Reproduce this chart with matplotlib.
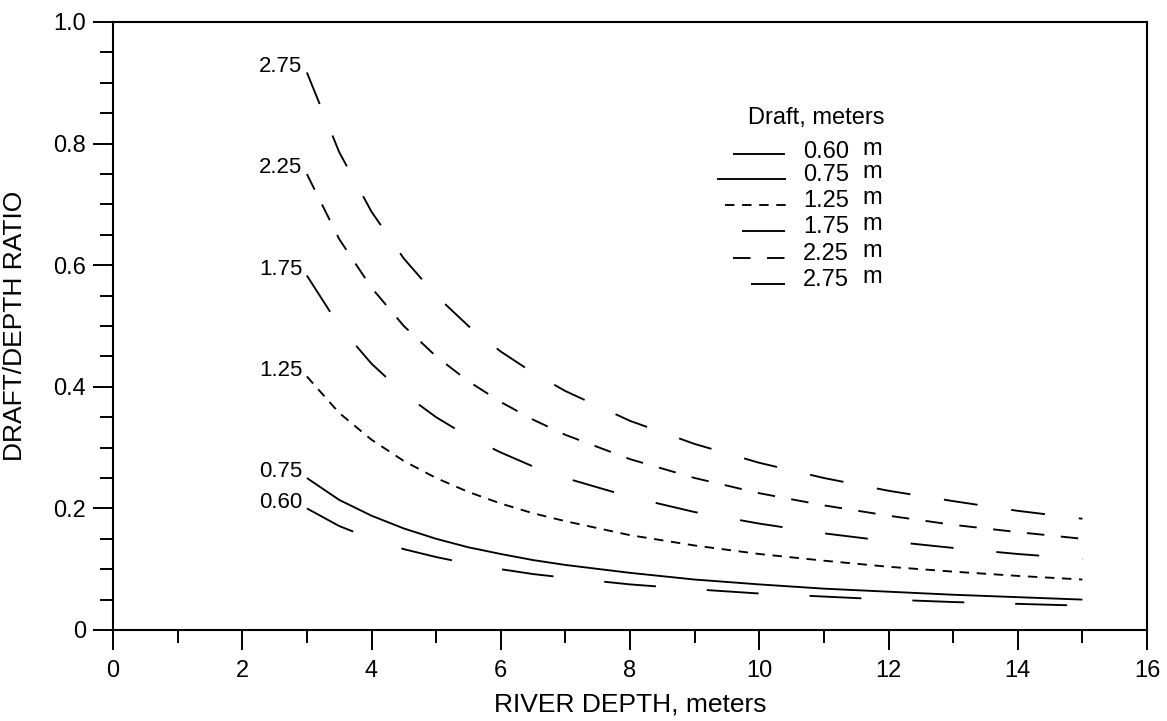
import matplotlib
matplotlib.use("Agg")
import matplotlib.pyplot as plt
from matplotlib.ticker import MultipleLocator

plt.rcParams['font.family'] = ['Liberation Sans', 'DejaVu Sans']
plt.rcParams['lines.scale_dashes'] = False

# ---- data ----
depth = [3, 3.5, 4, 4.5, 5, 5.5, 6, 6.5, 7, 8, 9, 10, 11, 12, 13, 14, 15]
drafts = ["0.60", "0.75", "1.25", "1.75", "2.25", "2.75"]
r060 = [.200, .171, .150, .133, .120, .109, .100, .092, .086, .075, .067, .060, .055, .050, .046, .043, .040]
r075 = [.250, .214, .188, .167, .150, .136, .125, .115, .107, .094, .083, .075, .068, .063, .058, .054, .050]
r125 = [.417, .357, .313, .278, .250, .227, .208, .192, .179, .156, .139, .125, .114, .104, .096, .089, .083]
r175 = [.583, .500, .438, .389, .350, .318, .292, .269, .250, .219, .194, .175, .159, .146, .135, .125, .117]
r225 = [.750, .643, .563, .500, .450, .409, .375, .346, .321, .281, .250, .225, .205, .188, .173, .161, .150]
r275 = [.917, .786, .688, .611, .550, .500, .458, .423, .393, .344, .306, .275, .250, .229, .212, .196, .183]
series = [r060, r075, r125, r175, r225, r275]

# ---- styles ----
dashes = [(37.4, 36.7), None, (6.8, 5.5), (31, 31), (12.6, 11.9), (24.5, 24.5)]
sample_px = [53, 69, 61, 44, 53, 35]
LW = 1.35

W, H = 1167, 721
fig = plt.figure(figsize=(W / 100, H / 100), dpi=100)
AX_L, AX_R, AX_T, AX_B = 113, 1147, 22, 630
ax = fig.add_axes([AX_L / W, (H - AX_B) / H, (AX_R - AX_L) / W, (AX_B - AX_T) / H])

for vals, d in zip(series, dashes):
    if d is None:
        ax.plot(depth, vals, color='black', lw=LW, solid_capstyle='butt')
    else:
        ax.plot(depth, vals, color='black', lw=LW, dashes=d, dash_capstyle='butt')

# curve labels at start
for lab, vals in zip(drafts, series):
    ax.text(depth[0] - 0.07, vals[0] + 0.01, lab, ha='right', va='center', fontsize=16)

ax.set_xlim(0, 16)
ax.set_ylim(0, 1.0)
ax.xaxis.set_major_locator(MultipleLocator(2))
ax.xaxis.set_minor_locator(MultipleLocator(1))
ax.yaxis.set_major_locator(MultipleLocator(0.2))
ax.yaxis.set_minor_locator(MultipleLocator(0.05))
ax.set_xticklabels([str(int(v)) for v in ax.get_xticks()])
ax.set_yticks([0, 0.2, 0.4, 0.6, 0.8, 1.0])
ax.set_yticklabels(["0", "0.2", "0.4", "0.6", "0.8", "1.0"])
ax.tick_params(which='major', direction='out', length=14.4, width=1.4, labelsize=17, pad=5)
ax.tick_params(which='minor', direction='out', length=9.4, width=1.4)
ax.tick_params(axis='x', which='major', pad=7)
for s in ax.spines.values():
    s.set_linewidth(1.5)

ax.set_xlabel("RIVER DEPTH, meters", fontsize=19, labelpad=8)
ax.set_ylabel("DRAFT/DEPTH RATIO", fontsize=19)
ax.yaxis.set_label_coords((27 - AX_L) / (AX_R - AX_L), 0.5)

# ---- manual legend (layout in pixel positions) ----
def axx(px):
    return (px - AX_L) / (AX_R - AX_L)

def axy(py):
    return (AX_B - py) / (AX_B - AX_T)

ax.text(axx(748), axy(118), "Draft, meters", transform=ax.transAxes,
        ha='left', va='center', fontsize=17)
row_text_y = [150, 173, 199, 225, 252, 278]
row_line_y = [154, 179, 205, 231, 258, 284]
for lab, d, L, ty, ly in zip(drafts, dashes, sample_px, row_text_y, row_line_y):
    kw = dict(color='black', lw=LW, transform=ax.transAxes, clip_on=False)
    if d is None:
        ax.plot([axx(786 - L), axx(786)], [axy(ly), axy(ly)], solid_capstyle='butt', **kw)
    else:
        ax.plot([axx(786 - L), axx(786)], [axy(ly), axy(ly)], dashes=d, dash_capstyle='butt', **kw)
    ax.text(axx(803), axy(ty + 8), lab, transform=ax.transAxes, ha='left', va='baseline', fontsize=17)
    ax.text(axx(862), axy(ty + 5), "m", transform=ax.transAxes, ha='left', va='baseline', fontsize=17)

fig.savefig("out.png", dpi=100)
